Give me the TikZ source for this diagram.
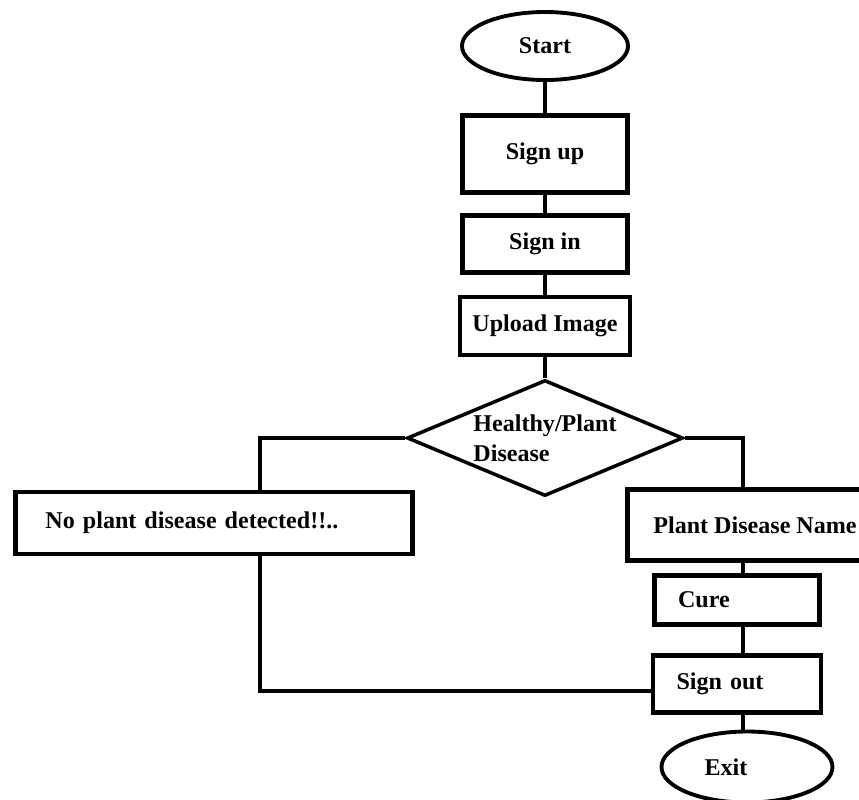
\documentclass[tikz,border=0pt]{standalone}
\usepackage{fontspec}
\setmainfont{Liberation Serif}
\usetikzlibrary{shapes.geometric, arrows}
\newcommand{\chartfont}{\bfseries\fontsize{13.7}{17}\selectfont}
\tikzstyle{terminal} = [ellipse, minimum width=3.32cm, minimum height=1.36cm, inner sep=0pt, text centered, draw=black, line width=2.2pt, font=\chartfont]
\tikzstyle{box} = [rectangle, minimum width=3.3cm, minimum height=1.14cm, text centered, draw=black, line width=2.8pt, font=\chartfont]
\tikzstyle{leftBox} = [rectangle, minimum height=1.14cm, inner xsep=0.47cm, align=left, draw=black, line width=2.8pt, font=\chartfont]
\tikzstyle{decision} = [diamond, aspect=2.38, minimum width=5.52cm, minimum height=2.32cm, inner sep=0pt, align=left, draw=black, line width=2pt, font=\chartfont]
\tikzstyle{connector} = [line width=2.2pt]
\begin{document}
\begin{tikzpicture}[node distance=2cm]
\useasboundingbox (-10.9,0.92) rectangle (6.28,-15.06);

\node (start) [terminal] {Start};
\node (signUp) [box, below of=start, yshift=-0.16cm, minimum height=1.54cm] {Sign up};
\node (signIn) [box, below of=signUp, yshift=0.2cm] {Sign in};
\node (upload) [box, below of=signIn, yshift=0.36cm, minimum width=3.4cm, minimum height=1.16cm] {Upload Image};
\node (check) [decision, below of=upload, yshift=-0.24cm] {Healthy/Plant\\Disease};
\node (healthy) [leftBox, left of=check, xshift=-4.62cm, yshift=-1.7cm, text width=6.74cm, inner xsep=0.6cm, minimum height=1.24cm] {No plant disease detected!!..};
\node (disease) [box, right of=check, xshift=2.2cm, yshift=-1.74cm, minimum width=5.1cm, minimum height=1.42cm] {Plant Disease Name};
\node (cure) [leftBox, below of=disease, xshift=-0.36cm, yshift=0.5cm, text width=2.36cm, minimum height=0.98cm] {Cure};
\node (signOut) [leftBox, below of=cure, yshift=0.32cm, text width=2.42cm] {Sign out};
\node (exit) [terminal, below of=signOut, xshift=0.2cm, yshift=0.34cm, minimum width=3.42cm, minimum height=1.42cm] {Exit\hspace*{0.84cm}};
\coordinate (leftLine) at ([xshift=0.92cm]healthy.north);
\coordinate (rightLine) at ([xshift=-0.24cm]disease.north);

\draw [connector] (start) -- (signUp);
\draw [connector] (signUp) -- (signIn);
\draw [connector] (signIn) -- (upload);
\draw [connector] (upload) -- (check);
\draw [connector] (check.west) -| (leftLine);
\draw [connector] (check.east) -| (rightLine);
\draw [connector] (disease.south -| rightLine) -- (cure.north -| rightLine);
\draw [connector] (cure.south -| rightLine) -- (signOut.north -| rightLine);
\draw [connector] (signOut.south -| rightLine) -- (exit.north -| rightLine);
\draw [connector] (leftLine |- healthy.south) |- ([yshift=-0.14cm]signOut.west);
\end{tikzpicture}
\end{document}
